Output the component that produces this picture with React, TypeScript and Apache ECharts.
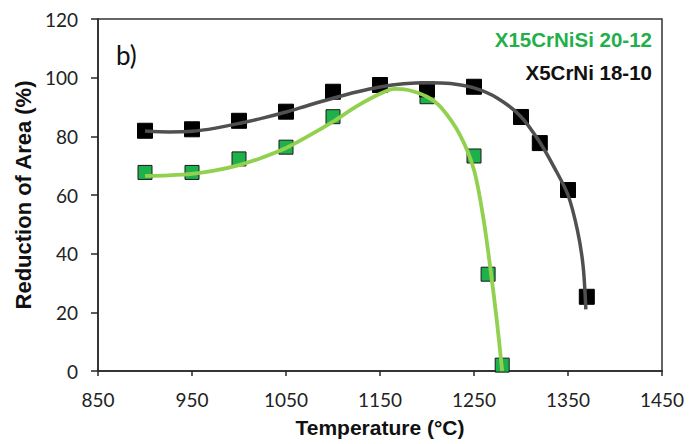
import React, { useEffect, useRef } from "react";
import * as echarts from "echarts";

// Measured points (Temperature °C, Reduction of Area %)
const x5CrNiPoints: [number, number][] = [
  [900, 81.9], [950, 82.4], [1000, 85.3], [1050, 88.4], [1100, 95.2], [1150, 97.5],
  [1200, 96.0], [1250, 96.9], [1300, 86.6], [1320, 77.7], [1350, 61.7], [1370, 25.3],
];
const x15CrNiSiPoints: [number, number][] = [
  [900, 67.7], [950, 67.7], [1000, 72.3], [1050, 76.3], [1100, 86.7],
  [1200, 93.5], [1250, 73.3], [1265, 33], [1280, 2],
];
// Trend lines
const x5CrNiTrend: [number, number][] = [
  [900, 81.8], [925, 81.5], [950, 81.7], [975, 82.8], [1000, 84.4], [1025, 86.2],
  [1050, 88.3], [1075, 90.7], [1100, 93], [1125, 95.1], [1150, 96.8], [1175, 97.9],
  [1200, 98.3], [1225, 98], [1250, 96.5], [1275, 93], [1300, 86.7], [1320, 78],
  [1335, 69.6], [1350, 60], [1360, 48], [1366, 36], [1369, 21],
];
const x15CrNiSiTrend: [number, number][] = [
  [900, 66.5], [925, 66.7], [950, 67.2], [975, 68.4], [1000, 70.2], [1025, 72.8],
  [1050, 76], [1075, 80.3], [1100, 85], [1125, 90.2], [1150, 94.5], [1165, 96.2],
  [1180, 95.8], [1200, 93.5], [1215, 89.8], [1235, 80.5], [1250, 68.5],
  [1260, 52], [1267, 36], [1274, 18], [1280, 0],
];
const seriesNames = ["X15CrNiSi 20-12", "X5CrNi 18-10"];
const panelLabel = "b)";

export default function App() {
  const ref = useRef<HTMLDivElement>(null);
  useEffect(() => {
    document.body.style.margin = "0";
    const chart = echarts.init(ref.current!, undefined, { renderer: "svg" });
    const axisColor = "#262626";
    chart.setOption({
      animation: false,
      backgroundColor: "#ffffff",
      grid: {
        left: 98, right: 37, top: 19, bottom: 73,
        show: true, borderColor: "#333", borderWidth: 1.5,
      },
      xAxis: {
        type: "value", min: 850, max: 1450, interval: 100,
        name: "Temperature (°C)", nameLocation: "middle", nameGap: 46,
        nameTextStyle: { fontFamily: "Liberation Sans", fontWeight: "bold", fontSize: 21, color: "#111" },
        axisLine: { show: true, lineStyle: { color: axisColor, width: 1.5 } },
        axisTick: { show: true, inside: false, length: 5, lineStyle: { color: axisColor, width: 1.5 } },
        axisLabel: { fontFamily: "Lato", fontSize: 19, color: "#222", margin: 19, formatter: (v: number) => String(v) },
        splitLine: { show: false },
      },
      yAxis: {
        type: "value", min: 0, max: 120, interval: 20,
        name: "Reduction of Area (%)", nameLocation: "middle", nameGap: 62, nameRotate: 90,
        nameTextStyle: { fontFamily: "Liberation Sans", fontWeight: "bold", fontSize: 22, color: "#111" },
        axisLine: { show: true, lineStyle: { color: axisColor, width: 1.5 } },
        axisTick: { show: true, inside: false, length: 7, lineStyle: { color: axisColor, width: 1.5 } },
        axisLabel: { fontFamily: "Lato", fontSize: 19, color: "#222", margin: 20, formatter: (v: number) => String(v) },
        splitLine: { show: false },
      },
      graphic: [
        {
          type: "text", left: 116, top: 42,
          style: { text: panelLabel, fontFamily: "Lato", fontSize: 26, fill: "#111" },
        },
        {
          type: "text", right: 47, top: 29,
          style: { text: seriesNames[0], fontFamily: "Liberation Sans", fontWeight: "bold", fontSize: 20.5, fill: "#1fb04b" },
        },
        {
          type: "text", right: 47, top: 62,
          style: { text: seriesNames[1], fontFamily: "Liberation Sans", fontWeight: "bold", fontSize: 20.5, fill: "#111" },
        },
      ],
      series: [
        {
          name: seriesNames[0] + " data", type: "scatter", data: x15CrNiSiPoints, z: 2,
          symbol: "rect", symbolSize: 14,
          itemStyle: { color: "#1db14b", borderColor: "#1a1a1a", borderWidth: 1, opacity: 1 },
        },
        {
          name: seriesNames[1] + " data", type: "scatter", data: x5CrNiPoints, z: 3,
          symbol: "rect", symbolSize: 15,
          itemStyle: { color: "#000000", borderColor: "#000", borderWidth: 1, opacity: 1 },
        },
        {
          name: seriesNames[1], type: "line", data: x5CrNiTrend, z: 4,
          smooth: 0.3, showSymbol: false, symbol: "none",
          lineStyle: { color: "#505050", width: 3.5 },
        },
        {
          name: seriesNames[0], type: "line", data: x15CrNiSiTrend, z: 5,
          smooth: 0.3, showSymbol: false, symbol: "none",
          lineStyle: { color: "#92d050", width: 3.8 },
        },
      ],
    });
    return () => chart.dispose();
  }, []);
  return <div ref={ref} style={{ width: 699, height: 444 }} />;
}
